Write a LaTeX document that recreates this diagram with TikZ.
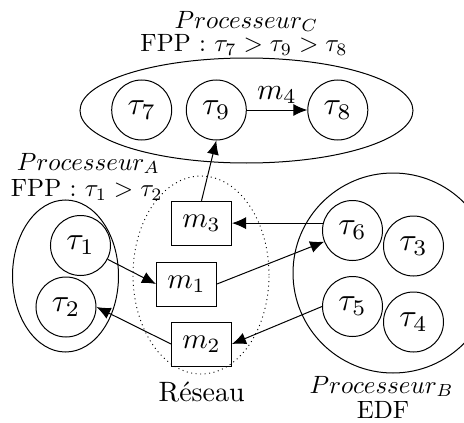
\RequirePackage{fix-cm}
\documentclass[tikz,border=0pt]{standalone}
\usetikzlibrary{arrows.meta,shapes.geometric}
\newcommand\sbx[2]{\scalebox{#1}{#2}}
\begin{document}
\begin{tikzpicture}[x=1pt,y=-1pt,
  task/.style={circle,draw,line width=1pt,minimum size=60pt,inner sep=0pt},
  msg/.style={rectangle,draw,line width=1pt,minimum width=60pt,minimum height=44pt,inner sep=0pt},
  group/.style={ellipse,draw,line width=1pt,inner sep=0pt},
  lbl/.style={anchor=base,inner sep=0pt},
  arr/.style={-{Latex[length=14pt,width=12pt]},line width=1pt}]
\clip (0,0) rectangle (464,423);
% groups
\node[group,minimum width=333pt,minimum height=105pt] (procC) at (246.5,110.5) {};
\node[group,minimum width=106pt,minimum height=152pt] (procA) at (65.5,276) {};
\node[circle,draw,line width=1pt,minimum size=200pt,inner sep=0pt] (procB) at (393,273) {};
\node[ellipse,draw,dash pattern=on 1pt off 3.5pt,line width=0.9pt,inner sep=0pt,minimum width=136pt,minimum height=198pt] (net) at (201,275) {};
% tasks
\node[task] (tau7) at (141.7,110) {\sbx{3.2}{$\tau_7$}};
\node[task] (tau9) at (216.3,110) {\sbx{3.2}{$\tau_9$}};
\node[task] (tau8) at (337.8,110) {\sbx{3.2}{$\tau_8$}};
\node[task] (tau1) at (80.5,245.5) {\sbx{3.2}{$\tau_1$}};
\node[task] (tau2) at (66,307) {\sbx{3.2}{$\tau_2$}};
\node[task] (tau6) at (352.5,230.5) {\sbx{3.2}{$\tau_6$}};
\node[task] (tau3) at (413.5,246) {\sbx{3.2}{$\tau_3$}};
\node[task] (tau5) at (352.5,306.5) {\sbx{3.2}{$\tau_5$}};
\node[task] (tau4) at (413.5,322) {\sbx{3.2}{$\tau_4$}};
% messages
\node[msg] (m3) at (201.5,223.3) {\sbx{2.9}{$m_3$}};
\node[msg] (m1) at (186.5,284) {\sbx{2.9}{$m_1$}};
\node[msg] (m2) at (201.5,344) {\sbx{2.9}{$m_2$}};
% connectors
\draw[arr] (m3.north) -- (tau9.south);
\draw[arr] (tau9) -- node[above=6pt,inner sep=0pt] (m4lbl) {\sbx{3}{$m_4$}} (tau8);
\draw[arr] (tau6.166) -- (tau6.166 -| m3.east);
\draw[arr] (tau1) -- (m1.west);
\draw[arr] (m1.east) -- (tau6);
\draw[arr] (tau5.west) -- (m2.east);
\draw[arr] (m2.west) -- (tau2.east);
% labels
\node[lbl] (pcname) at (246.5,28) {\sbx{2.5}{$Processeur_C$}};
\node[lbl] (pcsched) at (244,51.7) {\sbx{2.5}{FPP : $\tau_7 > \tau_9 > \tau_8$}};
\node[lbl] (paname) at (88.5,170) {\sbx{2.5}{$Processeur_A$}};
\node[lbl] (pasched) at (86.7,196.7) {\sbx{2.5}{FPP : $\tau_1 > \tau_2$}};
\node[lbl] (pbname) at (381.5,393) {\sbx{2.5}{$Processeur_B$}};
\node[lbl] (pbsched) at (383,418) {\sbx{2.5}{EDF}};
\node[lbl] (netname) at (201.7,401.7) {\sbx{2.8}{Réseau}};
\end{tikzpicture}
\end{document}
